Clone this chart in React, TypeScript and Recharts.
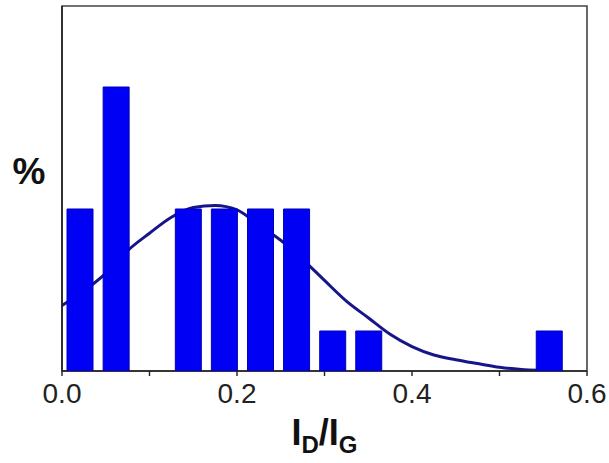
import React from 'react';
import { ComposedChart, BarChart, Bar, Line, XAxis, YAxis, ReferenceArea, Label } from 'recharts';

// Histogram bins (bin centres of I_D/I_G) and their share in %
const binCenters = [0.0206, 0.0619, 0.1444, 0.1856, 0.2269, 0.2681, 0.3094, 0.3506, 0.5569];
const binPercent = [12.5, 18.75, 12.5, 12.5, 12.5, 12.5, 6.25, 6.25, 6.25];

// Fitted distribution curve
const fitX = [0, 0.025, 0.05, 0.075, 0.1, 0.125, 0.15, 0.175, 0.2, 0.225, 0.25, 0.275, 0.3, 0.325, 0.35, 0.375, 0.4, 0.425, 0.45, 0.475, 0.5, 0.525, 0.545];
const fitY = [7.56, 8.3, 9.2, 10.37, 11.26, 12.08, 12.58, 12.68, 12.45, 11.68, 10.9, 9.92, 8.84, 7.78, 6.93, 6.08, 5.45, 5.02, 4.78, 4.58, 4.39, 4.28, 4.24];

const xTicks = [0, 0.1, 0.2, 0.3, 0.4, 0.5, 0.6];
const xDomain = [0, 0.6];
const yDomain = [4.2, 22.9];

const barData = binCenters.map((x, i) => ({ x, pct: binPercent[i] }));
const fitData = fitX.map((x, i) => ({ x, fit: fitY[i] }));

const FONT = '"Liberation Sans", Arial, Helvetica, sans-serif';
const W = 609;
const H = 463;

const XLabel = (props: any) => {
  const vb = props.viewBox || {};
  const cx = vb.x + vb.width / 2;
  const by = vb.y + 74;
  return (
    <text x={cx} y={by} textAnchor="middle" fontFamily={FONT} fontWeight="bold" fontSize={36} fill="#111">
      <tspan>I</tspan>
      <tspan fontSize={24} dy={8}>D</tspan>
      <tspan dy={-8}>/I</tspan>
      <tspan fontSize={24} dy={8}>G</tspan>
    </text>
  );
};

const YLabel = (props: any) => {
  const vb = props.viewBox || {};
  return (
    <text x={vb.x + vb.width - 33} y={vb.y + 178} textAnchor="middle" fontFamily={FONT} fontWeight="bold" fontSize={37} fill="#111">
      %
    </text>
  );
};

export default function App() {
  return (
    <div style={{ position: 'absolute', left: 0, top: 0, width: W, height: H, background: '#fff' }}>
      {/* bottom layer: frame, axes, labels and fitted curve */}
      <div style={{ position: 'absolute', left: 0, top: 0 }}>
        <ComposedChart width={W} height={H} data={fitData} margin={{ top: 6, right: 22, bottom: 0, left: 0 }}>
          <ReferenceArea x1={xDomain[0]} x2={xDomain[1]} y1={yDomain[0]} y2={yDomain[1]} fill="none" stroke="#444" strokeWidth={1.6} ifOverflow="visible" />
          <XAxis
            dataKey="x"
            type="number"
            domain={xDomain}
            ticks={xTicks}
            allowDataOverflow
            height={92}
            tickSize={5}
            tickMargin={7}
            axisLine={{ stroke: '#222', strokeWidth: 1.6 }}
            tickLine={{ stroke: '#222', strokeWidth: 1.4 }}
            tick={{ fontSize: 28, fill: '#222', fontFamily: FONT }}
            tickFormatter={(v: number) => (Math.round(v * 10) % 2 === 0 ? v.toFixed(1) : '')}
            interval={0}
          >
            <Label content={XLabel} />
          </XAxis>
          <YAxis
            type="number"
            domain={yDomain}
            allowDataOverflow
            width={62}
            tick={false}
            tickLine={false}
            axisLine={{ stroke: '#222', strokeWidth: 1.6 }}
          >
            <Label content={YLabel} />
          </YAxis>
          <Line dataKey="fit" type="monotone" stroke="#16168a" strokeWidth={3} dot={false} activeDot={false} isAnimationActive={false} />
        </ComposedChart>
      </div>
      {/* top layer: histogram bars drawn over the curve */}
      <div style={{ position: 'absolute', left: 0, top: 0 }}>
        <BarChart width={W} height={H} data={barData} margin={{ top: 6, right: 22, bottom: 92, left: 62 }}>
          <XAxis dataKey="x" type="number" domain={xDomain} allowDataOverflow hide />
          <YAxis type="number" domain={yDomain} allowDataOverflow hide />
          <Bar dataKey="pct" barSize={26} fill="#0000f5" stroke="#0000b8" strokeWidth={1} isAnimationActive={false} />
        </BarChart>
      </div>
    </div>
  );
}
